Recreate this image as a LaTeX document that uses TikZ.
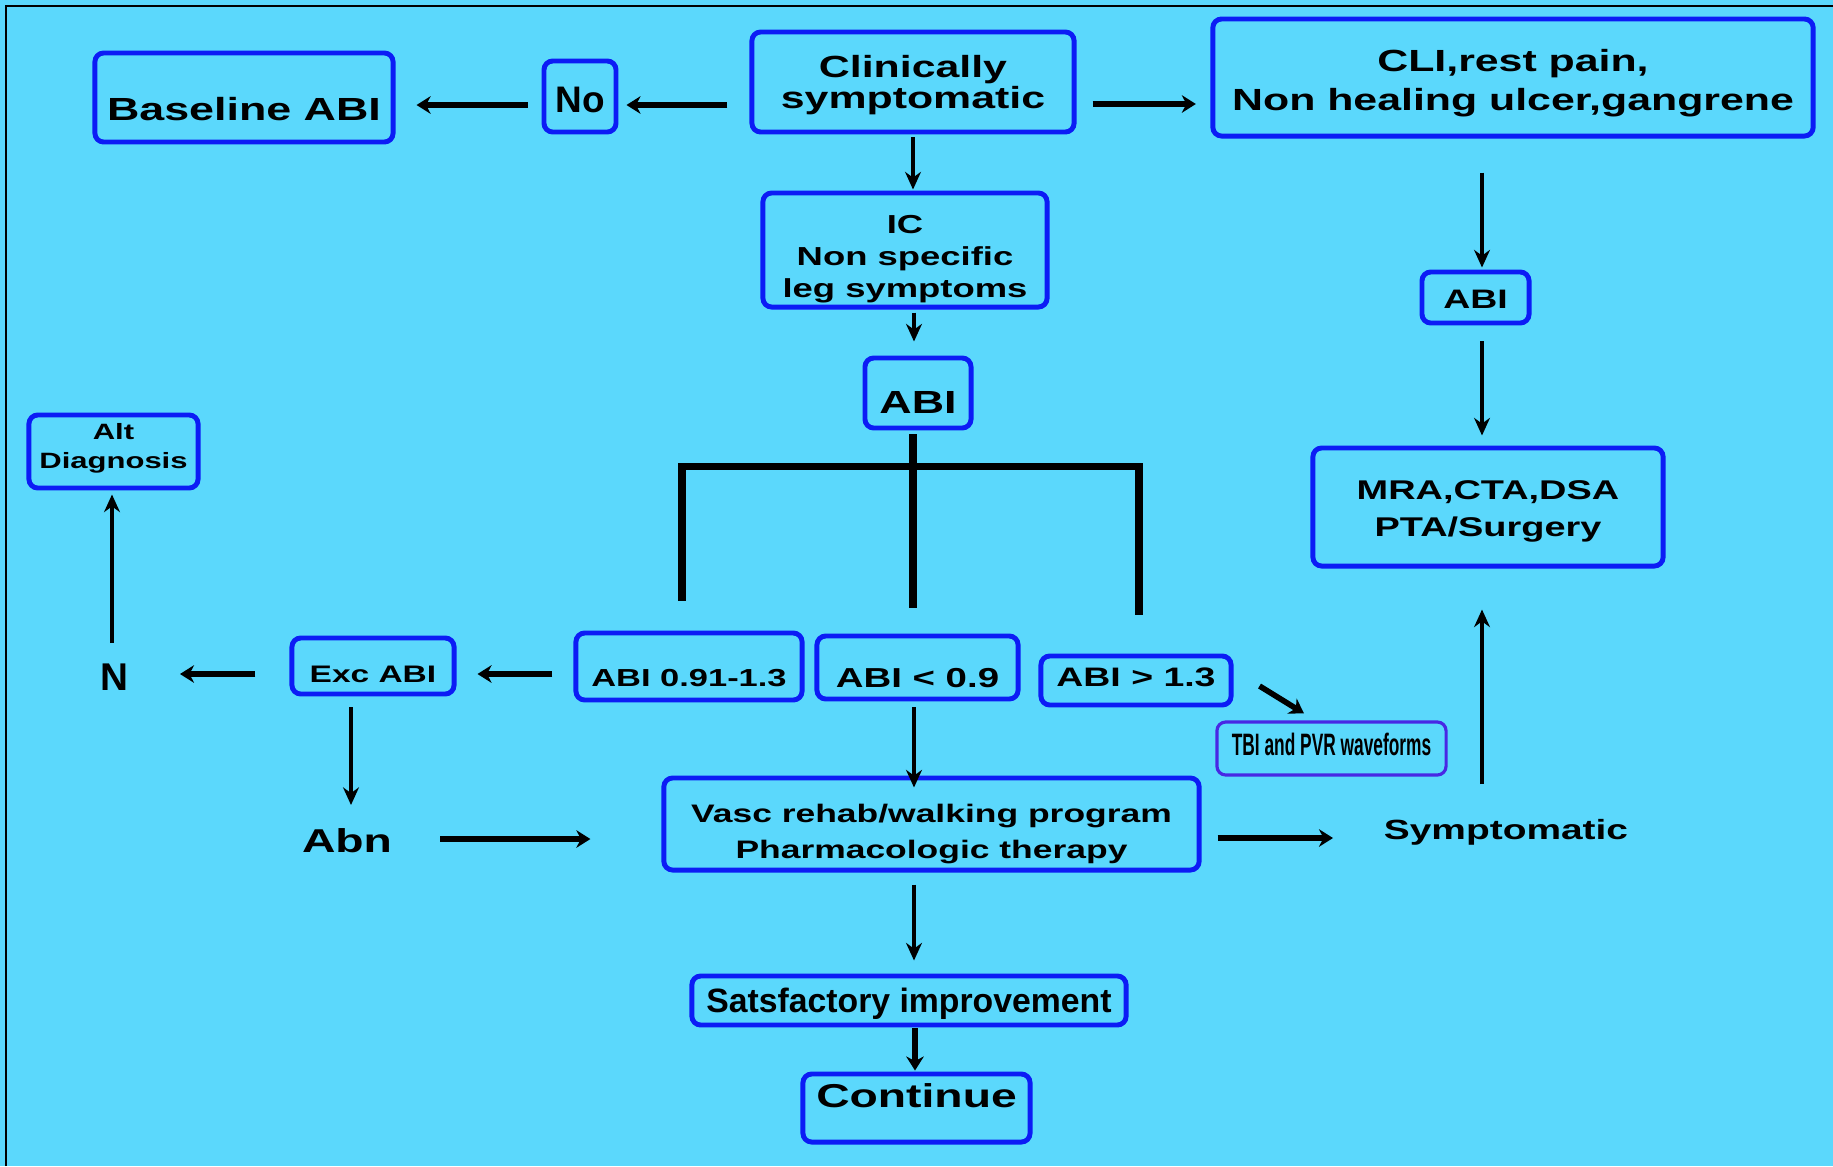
\documentclass[tikz,border=0pt]{standalone}
\usepackage{fontspec}
\setmainfont{Liberation Sans}
\newfontfamily\widesf[FakeStretch=1.4]{Liberation Sans}
\newfontfamily\thinsf[FakeStretch=0.56]{Liberation Sans}
\usetikzlibrary{arrows.meta, calc}
\definecolor{bgcyan}{RGB}{91,216,252}
\definecolor{boxblue}{RGB}{12,28,245}
\definecolor{tbiblue}{RGB}{72,40,228}

\begin{document}
\begin{tikzpicture}[x=0.01cm, y=-0.01cm,
  box/.style={draw=boxblue, line width=1.4pt, rounded corners=2.5pt, inner sep=0pt, align=center},
  dims/.style n args={3}{minimum width=#1cm, text height=#2cm, text depth=#3cm},
  wfont/.style 2 args={font=\widesf\bfseries\fontsize{#1}{#2}\selectfont},
  pfont/.style={font=\bfseries\fontsize{#1}{#1}\selectfont},
  harr/.style={-{Stealth[length=4pt,width=5pt]}, line width=1.6pt},
  varr/.style={-{Stealth[length=5pt,width=4.5pt]}, line width=1.2pt},
  bracket/.style={line width=2pt}]
\fill[bgcyan] (0,0) rectangle (1833,1166);
\useasboundingbox (0,0) rectangle (1833,1166);
\draw[line width=0.8pt] (6,1166) -- (6,6) -- (1833,6);

\node[box, dims={2.98}{0.67}{0.22}, wfont={9.1}{11}] (base) at (244,97.5) {Baseline ABI};
\node[box, dims={0.72}{0.51}{0.20}, pfont=10.5] (no) at (580,96.5) {No};
\node[box, dims={3.22}{0.76}{0.24}, wfont={8.7}{8.8}] (cs) at (913,82) {Clinically\\symptomatic};
\node[box, dims={6.00}{0.91}{0.26}, wfont={8.7}{11}] (cli) at (1513,77.5) {CLI,rest pain,\\Non healing ulcer,gangrene};
\node[box, dims={2.84}{1.04}{0.10}, wfont={7.4}{9.1}] (ic) at (905,250) {IC\\Non specific\\leg symptoms};
\node[box, dims={1.06}{0.55}{0.15}, wfont={9.1}{11}] (abi) at (918,393) {ABI};
\node[box, dims={1.07}{0.36}{0.15}, wfont={7.6}{9}] (abir) at (1475.5,297.5) {ABI};
\node[box, dims={3.50}{0.88}{0.30}, wfont={7.7}{10.5}] (mra) at (1488,507) {MRA,CTA,DSA\\PTA/Surgery};
\node[box, dims={1.69}{0.53}{0.20}, wfont={6.3}{8}] (alt) at (113.5,451.5) {Alt\\Diagnosis};
\node[box, dims={2.26}{0.53}{0.14}, wfont={7}{9}] (abilo) at (689,666.5) {ABI 0.91-1.3};
\node[box, dims={2.01}{0.51}{0.12}, wfont={7.8}{9}] (abimid) at (917.5,667.5) {ABI < 0.9};
\node[box, dims={1.90}{0.30}{0.19}, wfont={7.6}{9}] (abihi) at (1136,680.5) {ABI > 1.3};
\node[box, dims={1.62}{0.44}{0.12}, wfont={6.8}{9}] (exc) at (373,666) {Exc ABI};
\node[box, dims={5.35}{0.80}{0.12}, wfont={7.2}{10.2}] (vasc) at (931.5,824) {Vasc rehab/walking program\\Pharmacologic therapy};
\node[box, draw=tbiblue, line width=0.9pt, dims={2.29}{0.33}{0.20}, font=\thinsf\bfseries\fontsize{8.8}{10}\selectfont] (tbi) at (1331.5,748.5) {TBI and PVR waveforms};
\node[box, dims={4.34}{0.36}{0.13}, pfont=9.6] (sat) at (909,1000.5) {Satsfactory improvement};
\node[box, dims={2.27}{0.33}{0.35}, wfont={9.4}{11}] (cont) at (916.5,1108) {Continue};
\node[anchor=base, inner sep=0pt, pfont=11] (n) at (114,690) {N};
\node[anchor=base, inner sep=0pt, wfont={9.4}{11}] (abn) at (347,852) {Abn};
\node[anchor=base, inner sep=0pt, wfont={7.9}{9}] (sym) at (1506,839) {Symptomatic};

% bracket under ABI
\draw[bracket] ($(abi.south)+(-5,4)$) -- ($(abimid.north)+(-4.5,-26)$);
\draw[bracket] ($(abilo.north)+(-7,-30)$) |- ($(abi.south)+(-5,36)$) -| ($(abihi.north)+(3,-39)$);

% 1st pass: draw arrows
\draw[harr] ($(cs.west)+(-22,23)$) -- ($(no.east)+(8,8.5)$);
\draw[harr] ($(no.west)+(-14,8.5)$) -- ($(base.east)+(21,7.5)$);
\draw[harr] ($(cs.east)+(16,22)$) -- ($(cli.west)+(-14.5,26.5)$);
\draw[varr] ($(cs.south)+(0,3)$) -- ($(ic.north)+(8,-1)$);
\draw[varr] ($(ic.south)+(9,3)$) -- ($(abi.north)+(-4,-14)$);
\draw[varr] ($(cli.south)+(-31,34)$) -- ($(abir.north)+(6.5,-2)$);
\draw[varr] ($(abir.south)+(6.5,16)$) -- ($(mra.north)+(-6,-10)$);
\draw[harr] ($(abilo.west)+(-21,7.5)$) -- ($(exc.east)+(21,8)$);
\draw[harr] ($(exc.west)+(-34,8)$) -- ($(n.base)+(66,-16)$);
\draw[varr] ($(n.base)+(-2,-47)$) -- ($(alt.south)+(-1.5,4)$);
\draw[varr] ($(exc.south)+(-22,11)$) -- ($(abn.base)+(4,-47)$);
\draw[harr] ($(abn.base)+(93,-13)$) -- ($(vasc.west)+(-71,15)$);
\draw[varr] ($(abimid.south)+(-3.5,6)$) -- ($(vasc.north)+(-17.5,12)$);
\draw[harr] ($(abihi.east)+(26,5.5)$) -- ($(tbi.north)+(-27.5,-7)$);
\draw[harr] ($(vasc.east)+(16,14)$) -- ($(sym.base)+(-173,-1)$);
\draw[varr] ($(sym.base)+(-24,-55)$) -- ($(mra.south)+(-6,41)$);
\draw[varr] ($(vasc.south)+(-17.5,12)$) -- ($(sat.north)+(5,-13)$);
\draw[harr] ($(sat.south)+(6,1)$) -- ($(cont.north)+(-1.5,-1)$);

\end{tikzpicture}
\end{document}
